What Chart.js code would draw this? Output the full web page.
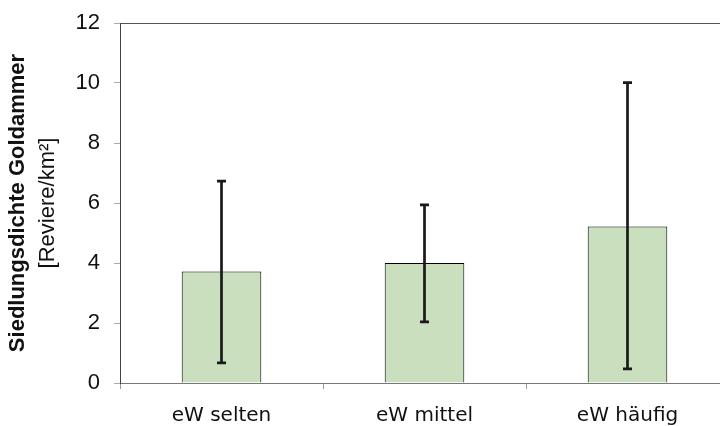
<!DOCTYPE html>
<html>
<head>
<meta charset="utf-8">
<script src="https://cdn.jsdelivr.net/npm/chart.js@4"></script>
<style>
  html, body { margin: 0; padding: 0; background: #fff; }
  #wrap { width: 720px; height: 426px; overflow: hidden; }
  canvas { display: block; }
</style>
</head>
<body>
<div id="wrap"><canvas id="myChart" width="729" height="426"></canvas></div>
<script>
const categories = ["eW selten", "eW mittel", "eW häufig"];
const means = [3.72, 4.0, 5.22];
const errLow = [0.67, 2.04, 0.47];
const errHigh = [6.73, 5.94, 10.01];
const yTicks = [0, 2, 4, 6, 8, 10, 12];

const FONT = "'Liberation Sans', Arial, sans-serif";
const XFONT = "'DejaVu Sans', sans-serif";

// error bars drawn with the chart's own scales
const errorBars = {
  id: "errorBars",
  afterDatasetsDraw(chart) {
    const ctx = chart.ctx;
    const x = chart.scales.x;
    const y = chart.scales.y;
    ctx.save();
    ctx.strokeStyle = "#1a1a1a";
    ctx.lineWidth = 2.7;
    categories.forEach((c, i) => {
      const px = x.getPixelForValue(i);
      const top = y.getPixelForValue(errHigh[i]);
      const bot = y.getPixelForValue(errLow[i]);
      ctx.beginPath();
      ctx.moveTo(px, top);
      ctx.lineTo(px, bot);
      ctx.moveTo(px - 4.5, top);
      ctx.lineTo(px + 4.5, top);
      ctx.moveTo(px - 4.5, bot);
      ctx.lineTo(px + 4.5, bot);
      ctx.stroke();
    });
    ctx.restore();
  },
};

// two-line y title, first line bold
const yTitle = {
  id: "yTitle",
  afterDraw(chart) {
    const ctx = chart.ctx;
    const area = chart.chartArea;
    const cy = (area.top + area.bottom) / 2;
    ctx.save();
    ctx.fillStyle = "#111";
    ctx.textAlign = "center";
    ctx.textBaseline = "middle";
    ctx.translate(18, cy);
    ctx.rotate(-Math.PI / 2);
    ctx.font = "bold 22px " + FONT;
    ctx.fillText("Siedlungsdichte Goldammer", 0, 0);
    ctx.restore();
    ctx.save();
    ctx.fillStyle = "#111";
    ctx.textAlign = "center";
    ctx.textBaseline = "middle";
    ctx.translate(48, cy);
    ctx.rotate(-Math.PI / 2);
    ctx.font = "22px " + FONT;
    ctx.fillText("[Reviere/km²]", 0, 0);
    ctx.restore();
  },
};

const ctx = document.getElementById("myChart").getContext("2d");
new Chart(ctx, {
  type: "bar",
  data: {
    labels: categories,
    datasets: [
      {
        data: means,
        backgroundColor: "#c9dfbe",
        borderColor: "#000",
        borderWidth: 1,
        barPercentage: 0.8,
        categoryPercentage: 0.49,
      },
    ],
  },
  options: {
    responsive: false,
    animation: false,
    layout: { padding: { left: 50, top: 23, right: 0, bottom: 0 } },
    plugins: { legend: { display: false }, tooltip: { enabled: false } },
    scales: {
      x: {
        border: { color: "#777", width: 1 },
        grid: { drawOnChartArea: false, offset: true, tickColor: "#999", tickLength: 6 },
        ticks: { color: "#111", font: { family: XFONT, size: 20 }, padding: 15 },
        afterFit(scale) {
          scale.height = 43;
          scale.paddingLeft = 0;
          scale.paddingRight = 0;
        },
      },
      y: {
        min: 0,
        max: 12,
        afterBuildTicks(scale) { scale.ticks = yTicks.map((v) => ({ value: v })); },
        border: { color: "#444", width: 1 },
        grid: {
          color: (c) => (c.tick && c.tick.value === 12 ? "#555" : "rgba(0,0,0,0)"),
          tickColor: "#aaa",
          tickLength: 6,
        },
        ticks: { color: "#111", font: { family: FONT, size: 22 }, padding: 14 },
        afterFit(scale) {
          scale.width = 70;
          scale.paddingTop = 0;
          scale.paddingBottom = 0;
        },
      },
    },
  },
  plugins: [errorBars, yTitle],
});
</script>
</body>
</html>
